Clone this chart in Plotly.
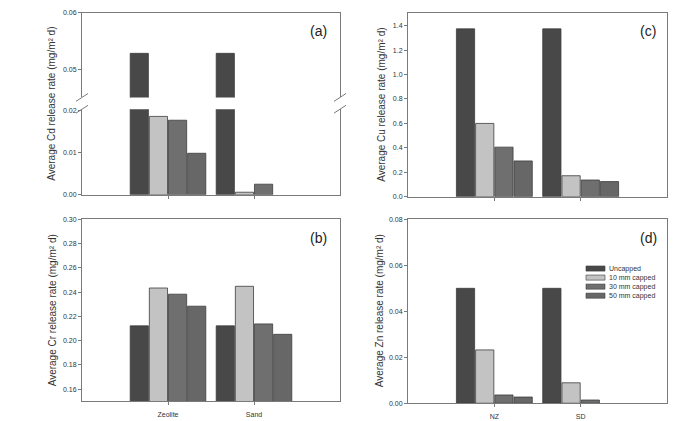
import plotly.graph_objects as go

# ---------------- data ----------------
series_names = ["Uncapped", "10 mm capped", "30 mm capped", "50 mm capped"]
series_colors = ["#484848", "#c3c3c3", "#6f6f6f", "#676767"]

sites_ab = ["Zeolite", "Sand"]
sites_cd = ["NZ", "SD"]

# each inner list: [site1, site2] for one series
cd_values = [[0.0529, 0.0529], [0.0185, 0.0006], [0.0176, 0.0025], [0.0098, 0.0]]
cr_values = [[0.2122, 0.2122], [0.2434, 0.2448], [0.2383, 0.2138], [0.2284, 0.2052]]
cu_values = [[1.374, 1.374], [0.600, 0.172], [0.406, 0.137], [0.293, 0.124]]
zn_values = [[0.0500, 0.0500], [0.0232, 0.0089], [0.0036, 0.0014], [0.0027, 0.0]]

panel_labels = ["(a)", "(b)", "(c)", "(d)"]
y_titles = [
    "Average Cd release rate (mg/m² d)",
    "Average Cr release rate (mg/m² d)",
    "Average Cu release rate (mg/m² d)",
    "Average Zn release rate (mg/m² d)",
]

# ---------------- layout helpers ----------------
W, H = 674, 421


def px_x(p):
    return p / W


def px_y(p):
    return 1 - p / H


FONT = "Liberation Sans, Arial, sans-serif"
AXCOL = "#7a7a7a"
TXT = "#333333"

fig = go.Figure()

subplots = [
    ("x", "y", sites_ab, cd_values),     # (a) upper
    ("x2", "y2", sites_ab, cd_values),   # (a) lower
    ("x3", "y3", sites_ab, cr_values),   # (b)
    ("x4", "y4", sites_cd, cu_values),   # (c)
    ("x5", "y5", sites_cd, zn_values),   # (d)
]

for xa, ya, sites, vals in subplots:
    for name, color, v in zip(series_names, series_colors, vals):
        widths = [0 if val == 0 else 0.8 for val in v]
        fig.add_trace(go.Bar(
            x=sites, y=v, name=name, xaxis=xa, yaxis=ya,
            marker=dict(color=color, line=dict(color="#3c3c3c", width=widths)),
            showlegend=False,
        ))

xdom_left = [px_x(82), px_x(340)]
xdom_right = [px_x(408), px_x(667)]

common_x = dict(type="category", range=[-1, 2], showline=True, linecolor=AXCOL, linewidth=1,
                ticks="outside", ticklen=3, tickcolor=AXCOL, showgrid=False, zeroline=False,
                tickfont=dict(family=FONT, size=7, color=TXT), fixedrange=True,
                ticklabelstandoff=3)
common_y = dict(showline=True, linecolor=AXCOL, linewidth=1, ticks="outside", ticklen=3,
                tickcolor=AXCOL, showgrid=False, zeroline=False,
                tickfont=dict(family=FONT, size=7, color=TXT), fixedrange=True)

fig.update_layout(
    width=W, height=H, margin=dict(l=0, r=0, t=0, b=0),
    paper_bgcolor="white", plot_bgcolor="white",
    barmode="group", bargap=0.11, bargroupgap=0.05,
    showlegend=False,
    font=dict(family=FONT, color=TXT),
    # (a) upper
    xaxis=dict(common_x, domain=xdom_left, anchor="y", side="top", ticks="", showticklabels=False, mirror=False),
    yaxis=dict(common_y, domain=[px_y(95), px_y(9)], anchor="x", range=[0.04517, 0.06],
               tickvals=[0.05, 0.06], tickformat=".2f", mirror=True),
    # (a) lower
    xaxis2=dict(common_x, domain=xdom_left, anchor="y2", showticklabels=False),
    yaxis2=dict(common_y, domain=[px_y(194), px_y(107)], anchor="x2", range=[0, 0.0202],
                tickvals=[0.0, 0.01, 0.02], tickformat=".2f", mirror=True),
    # (b)
    xaxis3=dict(common_x, domain=xdom_left, anchor="y3", mirror=True),
    yaxis3=dict(common_y, domain=[px_y(404), px_y(219)], anchor="x3", range=[0.15, 0.30],
                dtick=0.02, tick0=0.16, tickformat=".2f", mirror=True),
    # (c)
    xaxis4=dict(common_x, domain=xdom_right, anchor="y4", showticklabels=False, mirror=True),
    yaxis4=dict(common_y, domain=[px_y(196), px_y(9)], anchor="x4", range=[0, 1.505],
                dtick=0.2, tickformat=".1f", mirror=True),
    # (d)
    xaxis5=dict(common_x, domain=xdom_right, anchor="y5", mirror=True),
    yaxis5=dict(common_y, domain=[px_y(406), px_y(219)], anchor="x5", range=[0, 0.08],
                dtick=0.02, tickformat=".2f", mirror=True),
)

annotations = []
title_pos = [(52, (9 + 194) / 2), (52, (219 + 404) / 2), (382, (9 + 196) / 2), (379, (219 + 406) / 2)]
for t, (ax_, ay_) in zip(y_titles, title_pos):
    annotations.append(dict(text=t, x=px_x(ax_), y=px_y(ay_), xref="paper", yref="paper",
                            showarrow=False, textangle=-90, xanchor="center", yanchor="middle",
                            font=dict(family=FONT, size=10, color=TXT)))
label_pos = [(318, 27), (318, 238), (648, 27), (648, 238)]
for t, (lx, ly) in zip(panel_labels, label_pos):
    annotations.append(dict(text=t, x=px_x(lx), y=px_y(ly), xref="paper", yref="paper",
                            showarrow=False, xanchor="center", yanchor="middle",
                            font=dict(family=FONT, size=14, color="#222")))

shapes = []
for x0 in (82, 340):
    for yc in (95, 107):
        shapes.append(dict(type="line", xref="paper", yref="paper",
                           x0=px_x(x0 - 6), y0=px_y(yc + 4), x1=px_x(x0 + 6), y1=px_y(yc - 4),
                           line=dict(color=AXCOL, width=1)))

leg_x0, leg_y0, row_h = 586, 269, 9.2
for i, (name, color) in enumerate(zip(series_names, series_colors)):
    yc = leg_y0 + i * row_h
    shapes.append(dict(type="rect", xref="paper", yref="paper",
                       x0=px_x(leg_x0), x1=px_x(leg_x0 + 19), y0=px_y(yc + 2.6), y1=px_y(yc - 2.6),
                       fillcolor=color, line=dict(color="#3c3c3c", width=0.6)))
    annotations.append(dict(text=name, x=px_x(leg_x0 + 21), y=px_y(yc), xref="paper", yref="paper",
                            showarrow=False, xanchor="left", yanchor="middle",
                            font=dict(family=FONT, size=7, color=TXT)))

fig.update_layout(annotations=annotations, shapes=shapes)

fig.write_html("out.html")
